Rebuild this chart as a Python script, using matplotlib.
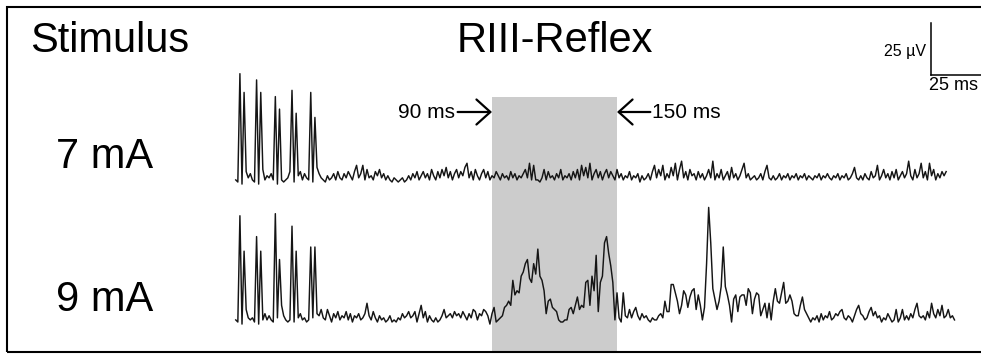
import matplotlib
matplotlib.use("Agg")
import matplotlib.pyplot as plt
from matplotlib.patches import Rectangle

plt.rcParams['font.family'] = ['Liberation Sans', 'DejaVu Sans']

# ---------------- data ----------------
row_labels = ["7 mA", "9 mA"]
header_left = "Stimulus"
header_mid = "RIII-Reflex"
t_start_ms = -33          # time of first sample (ms)
dt_ms = 1.0               # sampling step (ms)

# EMG trace, 7 mA stimulus (µV)
trace_7mA = [
    1, 0, 52, -1, 43, 5, 2, 4, 1, 0,
    49, -1, 43, 6, 1, 3, 2, 4, 1, 41,
    -1, 35, 1, 0, 1, 2, 5, 44, 0, 33,
    3, 5, 1, 4, 2, 1, 43, 0, 31, 7,
    4, 2, 1, 0, 3, 1, 2, 4, 1, 5,
    2, 1, 4, 2, 5, 3, 1, 5, 8, 2,
    4, 8, 1, 6, 2, 3, 1, 5, 3, 6,
    2, 4, 1, 3, 1, 0, 2, 1, 0, 1,
    2, 0, 1, 3, 1, 4, 2, 5, 1, 3,
    5, 2, 4, 1, 6, 3, 1, 5, 2, 6,
    3, 7, 2, 5, 1, 4, 6, 2, 5, 3,
    7, 9, 2, 5, 1, 6, 3, 1, 4, 6,
    2, 5, 1, 3, 2, 5, 3, 1, 4, 2,
    3, 1, 5, 2, 4, 1, 3, 2, 4, 6,
    2, 9, 1, 8, 1, 1, 0, 2, 6, 1,
    5, 2, 3, 1, 4, 2, 6, 1, 3, 2,
    4, 1, 5, 2, 6, 1, 8, 3, 7, 2,
    9, 1, 4, 6, 2, 5, 1, 4, 6, 2,
    5, 3, 1, 6, 2, 4, 1, 3, 2, 5,
    1, 3, 2, 4, 0, 3, 1, 2, 4, 1,
    5, 8, 2, 6, 3, 8, 1, 4, 2, 7,
    3, 9, 1, 6, 10, 2, 5, 1, 6, 3,
    4, 1, 5, 2, 4, 1, 3, 6, 2, 10,
    1, 4, 2, 6, 1, 3, 5, 1, 7, 2,
    4, 1, 3, 6, 9, 2, 4, 1, 2, 3,
    1, 2, 4, 1, 5, 8, 2, 1, 3, 1,
    2, 4, 1, 3, 2, 4, 1, 3, 2, 4,
    1, 3, 2, 4, 1, 3, 2, 1, 3, 2,
    4, 1, 3, 2, 4, 2, 1, 3, 2, 4,
    1, 3, 2, 4, 1, 2, 4, 7, 2, 1,
    3, 1, 4, 2, 1, 5, 2, 3, 8, 1,
    3, 6, 2, 4, 1, 5, 2, 6, 1, 3,
    5, 2, 4, 10, 3, 1, 6, 2, 4, 9,
    2, 5, 1, 9, 3, 6, 1, 4, 2, 5,
    3, 5,
]

# EMG trace, 9 mA stimulus (µV)
trace_9mA = [
    1, 0, 51, -1, 34, 6, 2, 1, 2, 0,
    41, -1, 34, 1, 4, 1, 3, 1, 0, 52,
    2, 30, 8, 3, 1, 0, 1, 46, 0, 34,
    2, 4, 1, 2, 0, 1, 36, 2, 36, 4,
    3, 6, 2, 1, 6, 3, 0, 4, 2, 5,
    1, 3, 2, 5, 1, 4, 0, 3, 2, 4,
    1, 2, 4, 9, 3, 1, 5, 2, 0, 3,
    1, 2, 0, 1, 3, 0, 1, 0, 2, 1,
    4, 2, 3, 5, 2, 3, 5, 0, 4, 8,
    2, 5, 0, 3, 1, 0, 2, 0, 1, 3,
    6, 2, 3, 4, 2, 5, 3, 4, 2, 5,
    3, 1, 4, 2, 6, 5, 1, 4, 3, 6,
    5, 3, -1, 4, 7, 0, 1, 2, 3, 7,
    8, 10, 8, 20, 13, 15, 14, 22, 24, 28,
    30, 21, 19, 28, 23, 35, 22, 20, 15, 4,
    10, 11, 7, 6, 5, 1, 0, 0, 1, 1,
    6, 7, 4, 8, 12, 6, 8, 7, 19, 20,
    8, 22, 15, 32, 5, 19, 22, 38, 41, 33,
    27, 19, 1, 14, 2, 0, 14, 3, 2, 6,
    2, 5, 7, 3, 1, 4, 2, 3, 1, 0,
    2, 1, 1, 3, 4, 2, 10, 5, 5, 18,
    18, 14, 10, 4, 8, 15, 13, 7, 12, 15,
    16, 6, 13, 8, 1, 7, 28, 55, 38, 16,
    11, 6, 10, 17, 36, 17, 13, 8, 0, 11,
    13, 5, 12, 13, 13, 8, 16, 14, 4, 11,
    14, 13, 3, 6, 9, 2, 9, 1, 10, 16,
    10, 9, 14, 19, 9, 10, 13, 10, 4, 3,
    3, 8, 12, 6, 4, 2, 0, 2, 1, 3,
    0, 4, 1, 3, 2, 5, 1, 2, 4, 3,
    5, 6, 2, 1, 3, 2, 0, 3, 6, 8,
    4, 3, 1, 2, 5, 7, 3, 5, 2, 3,
    0, 2, 1, 4, 2, 0, 1, 6, 0, 2,
    6, 1, 3, 1, 4, 2, 6, 9, 3, 2,
    3, 1, 5, 2, 9, 4, 2, 6, 3, 8,
    2, 3, 6, 2, 3, 1,
]

window_start_ms = 90
window_end_ms = 150
window_labels = ["90 ms", "150 ms"]
scale_uV = 25
scale_ms = 25

# ---------------- layout ----------------
W, H = 981, 356
K = 125 / 60.0            # pixels per ms and per µV
X0_PX = 304.5             # pixel x of t = 0
BASE_PX = [182, 322]      # pixel y of each trace baseline


def fx(px):
    return px / W


def fy(py):
    return 1 - py / H


fig = plt.figure(figsize=(W / 100, H / 100), dpi=100)
fig.patch.set_facecolor('white')
ax = fig.add_axes([0, 0, 1, 1])
ax.set_xlim(-X0_PX / K, (W - X0_PX) / K)
ax.set_ylim(-(H - BASE_PX[1]) / K, BASE_PX[1] / K)
ax.axis('off')

# shaded reflex window
win_bottom = -(352 - BASE_PX[1]) / K
win_top = (BASE_PX[1] - 97) / K
ax.add_patch(Rectangle((window_start_ms, win_bottom),
                       window_end_ms - window_start_ms, win_top - win_bottom,
                       facecolor='#cccccc', edgecolor='none', zorder=1))

# traces
for trace, base in zip([trace_7mA, trace_9mA], BASE_PX):
    offset = (BASE_PX[1] - base) / K
    t = [t_start_ms + i * dt_ms for i in range(len(trace))]
    y = [v + offset for v in trace]
    ax.plot(t, y, color='#151515', lw=1.05, zorder=3)

# frame
fig.patches.append(Rectangle((fx(7), fy(352)), 1.2, (352 - 7) / H,
                             transform=fig.transFigure, fill=False,
                             edgecolor='black', lw=1.5, zorder=5))

# headings
fig.text(fx(110), fy(52), header_left, ha='center', va='baseline', fontsize=30)
fig.text(fx(555), fy(52), header_mid, ha='center', va='baseline', fontsize=30)
fig.text(fx(105), fy(168), row_labels[0], ha='center', va='baseline', fontsize=30)
fig.text(fx(105), fy(311), row_labels[1], ha='center', va='baseline', fontsize=30)

# window arrows
arrow_y = (BASE_PX[1] - 112) / K
ap = dict(arrowstyle='->,head_length=0.5,head_width=0.45', lw=1.6,
          color='black', mutation_scale=20, shrinkA=0, shrinkB=0)
ax.annotate('', xy=(window_start_ms, arrow_y), xytext=(window_start_ms - 16.5, arrow_y),
            arrowprops=ap, zorder=4)
ax.annotate('', xy=(window_end_ms, arrow_y), xytext=(window_end_ms + 16, arrow_y),
            arrowprops=ap, zorder=4)
ax.text(window_start_ms - 18, arrow_y, window_labels[0], ha='right', va='center',
        fontsize=15)
ax.text(window_end_ms + 17, arrow_y, window_labels[1], ha='left', va='center',
        fontsize=15)

# scale bar
sb_x = (931 - X0_PX) / K
sb_y = (BASE_PX[1] - 75) / K
ax.plot([sb_x, sb_x], [sb_y, sb_y + scale_uV], color='black', lw=1.1, zorder=4)
ax.plot([sb_x, sb_x + scale_ms], [sb_y, sb_y], color='black', lw=1.1, zorder=4,
        clip_on=False)
ax.text(sb_x - 2.5, sb_y + scale_uV * 0.45, f"{scale_uV} µV", ha='right',
        va='center', fontsize=11.5)
ax.text(sb_x - 1.0, sb_y - 1.0, f"{scale_ms} ms", ha='left', va='top', fontsize=13)

fig.savefig('out.png', dpi=100, facecolor='white')
